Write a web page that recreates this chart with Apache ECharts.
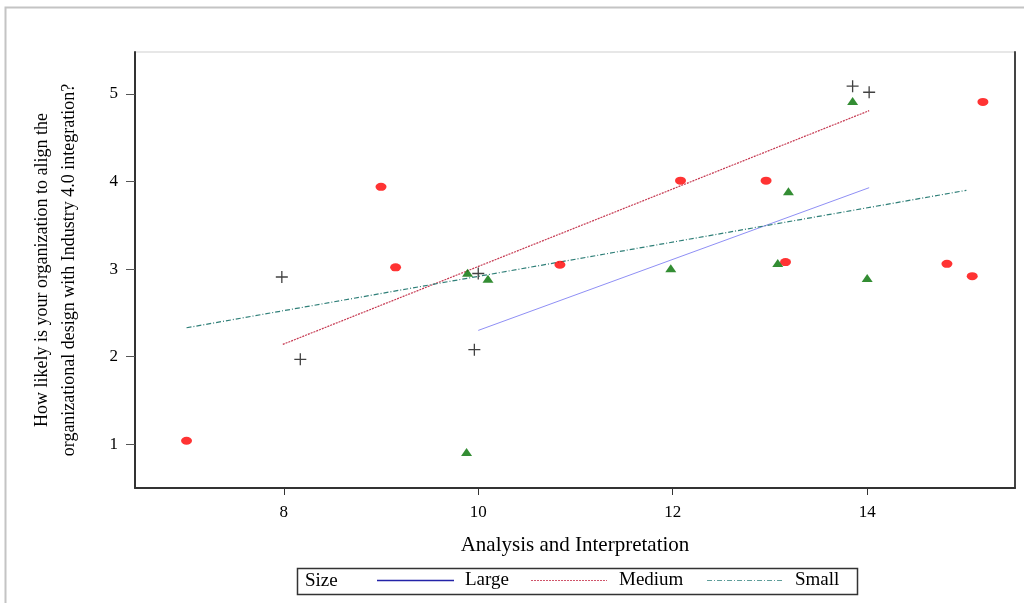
<!DOCTYPE html>
<html>
<head>
<meta charset="utf-8">
<script src="https://cdn.jsdelivr.net/npm/echarts@6/dist/echarts.min.js"></script>
<style>
  html, body { margin: 0; padding: 0; background: #fff; }
  #chart { width: 1024px; height: 603px; }
</style>
</head>
<body>
<div id="chart"></div>
<script>
// Points: [Analysis and Interpretation, likelihood]
const largePoints = [[7.98, 2.91], [8.17, 1.97], [9.96, 2.08], [10.0, 2.95], [13.85, 5.09], [14.02, 5.02]];
const mediumPoints = [[7.0, 1.04], [9.0, 3.94], [9.15, 3.02], [10.84, 3.05], [12.08, 4.01], [12.96, 4.01],
  [13.16, 3.08], [14.82, 3.06], [15.08, 2.92], [15.19, 4.91]];
const smallPoints = [[9.88, 0.91], [9.89, 2.96], [10.1, 2.89], [11.98, 3.01], [13.08, 3.07], [13.19, 3.89],
  [13.85, 4.92], [14.0, 2.9]];

// Fit lines (end points)
const largeFit = [[10.0, 2.3], [14.02, 3.93]];
const mediumFit = [[7.99, 2.14], [14.02, 4.81]];
const smallFit = [[7.0, 2.33], [15.02, 3.9]];

const xTicks = [8, 10, 12, 14];
const yTicks = [1, 2, 3, 4, 5];
const sizeNames = ['Large', 'Medium', 'Small'];

const serif = '"Liberation Serif", "Times New Roman", serif';
const crossPath = 'path://M0,5.35H12V6.65H0Z M5.35,0H6.65V12H5.35Z';

// legend sample line starts, in px
const legendLeft = [377, 531, 707];

const chart = echarts.init(document.getElementById('chart'));

const legends = sizeNames.map((name, i) => ({
  data: [name],
  left: legendLeft[i], top: 569,
  itemWidth: 77, itemHeight: 22, padding: 0,
  icon: 'none',
  textStyle: { fontFamily: serif, fontSize: 19, color: '#000', padding: [0, 0, 0, 6] },
  selectedMode: false
}));

chart.setOption({
  animation: false,
  backgroundColor: '#fff',
  grid: {
    left: 135, right: 9, top: 52, bottom: 115,
    show: true, borderColor: '#cfcfcf', borderWidth: 1
  },
  xAxis: {
    type: 'value', min: 6.47, max: 15.52,
    name: 'Analysis and Interpretation', nameLocation: 'middle', nameGap: 47,
    nameTextStyle: { fontFamily: serif, fontSize: 21, color: '#000' },
    axisLine: { lineStyle: { color: '#333', width: 2 } },
    axisTick: { show: true, length: 7, customValues: xTicks, lineStyle: { color: '#333' } },
    axisLabel: { customValues: xTicks, fontFamily: serif, fontSize: 17, color: '#000', margin: 16 },
    splitLine: { show: false }
  },
  yAxis: [{
    type: 'value', min: 0.5, max: 5.48,
    name: 'How likely is your organization to align the\norganizational design with Industry 4.0 integration?',
    nameLocation: 'middle', nameGap: 52, nameRotate: 90,
    nameTextStyle: { fontFamily: serif, fontSize: 18, color: '#000', lineHeight: 27 },
    axisLine: { show: true, lineStyle: { color: '#333', width: 2 } },
    axisTick: { show: true, length: 9, customValues: yTicks, lineStyle: { color: '#555' } },
    axisLabel: { customValues: yTicks, fontFamily: serif, fontSize: 17, color: '#000', margin: 17 },
    splitLine: { show: false }
  }, {
    type: 'value', position: 'right', min: 0.5, max: 5.48,
    axisLine: { show: true, lineStyle: { color: '#444', width: 2 } },
    axisTick: { show: false }, axisLabel: { show: false }, splitLine: { show: false }
  }],
  legend: legends,
  graphic: [
    { type: 'rect', shape: { x: 5.5, y: 7.5, width: 1100, height: 700 }, style: { fill: 'none', stroke: '#c4c4c4', lineWidth: 2 }, silent: true, z: -1 },
    { type: 'rect', shape: { x: 297.5, y: 568.5, width: 560, height: 26 }, style: { fill: 'none', stroke: '#333', lineWidth: 1.5 } },
    { type: 'text', left: 305, top: 572, style: { text: 'Size', font: '19px ' + serif, fill: '#000' } },
    { type: 'line', shape: { x1: 377, y1: 580.5, x2: 454, y2: 580.5 }, style: { stroke: '#2323a8', lineWidth: 1.3 } },
    { type: 'line', shape: { x1: 531, y1: 580.5, x2: 607, y2: 580.5 }, style: { stroke: '#d0556b', lineWidth: 1, lineDash: [2, 1] } },
    { type: 'line', shape: { x1: 707, y1: 580.5, x2: 783, y2: 580.5 }, style: { stroke: '#5f9e9a', lineWidth: 1, lineDash: [5, 2, 1, 2] } }
  ],
  series: [
    {
      name: 'Large', type: 'line', data: largeFit, showSymbol: false, symbol: 'none',
      lineStyle: { color: '#8f8ff5', width: 1 }, itemStyle: { color: '#8f8ff5' }, z: 2
    },
    {
      name: 'Medium', type: 'line', data: mediumFit, showSymbol: false, symbol: 'none',
      lineStyle: { color: '#c63a52', width: 1.2, type: [2, 1] }, itemStyle: { color: '#c63a52' }, z: 2
    },
    {
      name: 'Small', type: 'line', data: smallFit, showSymbol: false, symbol: 'none',
      lineStyle: { color: '#2f7f78', width: 1.2, type: [5, 2, 1, 2] }, itemStyle: { color: '#2f7f78' }, z: 2
    },
    {
      name: 'large-points', type: 'scatter', data: largePoints, symbol: crossPath, symbolSize: 12,
      itemStyle: { color: '#111' }, z: 3
    },
    {
      name: 'medium-points', type: 'scatter', data: mediumPoints, symbol: 'circle', symbolSize: [11, 8],
      itemStyle: { color: '#ff0000' }, z: 3
    },
    {
      name: 'small-points', type: 'scatter', data: smallPoints, symbol: 'triangle', symbolSize: [11, 8],
      itemStyle: { color: '#007000' }, z: 3
    }
  ]
});

window.addEventListener('resize', () => chart.resize());
</script>
</body>
</html>
